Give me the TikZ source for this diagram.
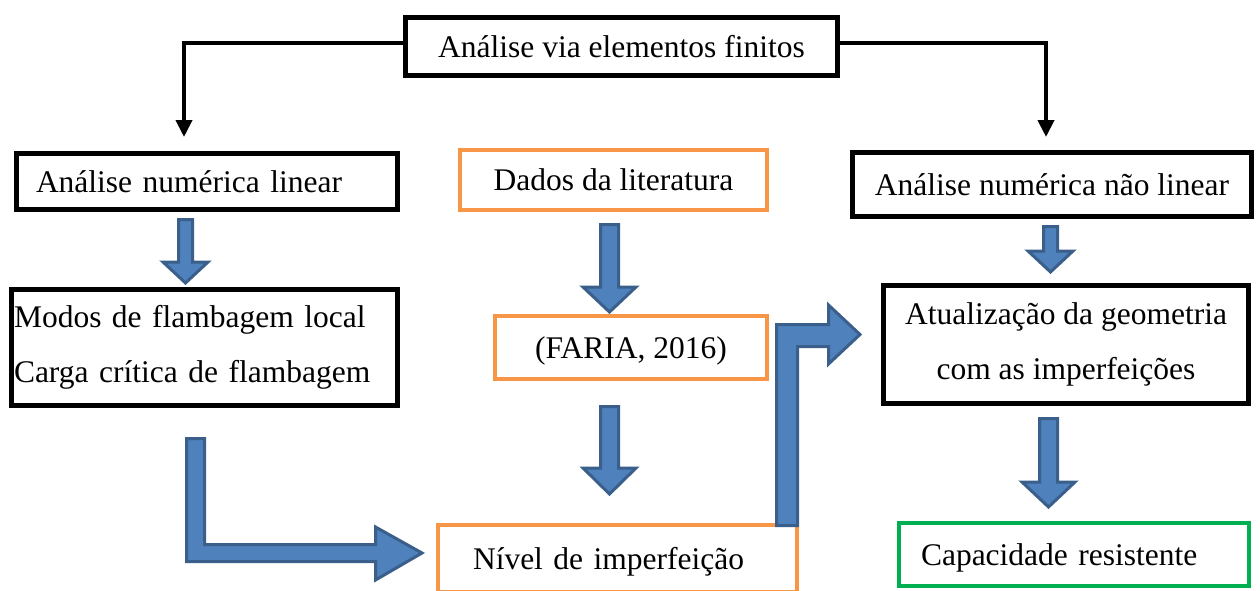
\documentclass[tikz,border=0pt]{standalone}
\usepackage{xcolor}
\usepackage{fontspec}
\setmainfont{Liberation Serif}
\usepackage{tikz}
\usetikzlibrary{arrows.meta}

\definecolor{arrowfill}{HTML}{4F81BD}
\definecolor{arrowline}{HTML}{3A5F8B}
\definecolor{orangeline}{HTML}{F79646}
\definecolor{greenline}{HTML}{00B050}

\begin{document}
\begin{tikzpicture}[
  x=1pt, y=-1pt,
  every node/.style={font=\fontsize{31.5pt}{55pt}\selectfont},
  frame/.style={draw=black, line width=5pt, inner sep=0pt, align=center},
  box/.style={frame, text height=21pt, text depth=0pt},
  lit/.style={box, draw=orangeline, line width=4.5pt},
  res/.style={box, draw=greenline, line width=4.5pt},
  link/.style={draw=black, line width=4pt, line join=miter,
               -{Triangle[width=16pt, length=17pt]}},
  fat/.style={fill=arrowfill, draw=arrowline, line width=3pt, line join=miter},
]
  \useasboundingbox (0,0) rectangle (1260,590);

  % Top box
  \node[box, minimum width=432pt, minimum height=58pt] (fem) at (621.5,46.5)
    {Análise via elementos finitos};

  % First row
  \node[box, minimum width=381pt, minimum height=56pt, inner xsep=19.5pt,
        text width=342pt, align=left] (lin) at (207,181.5)
    {Análise numérica linear};
  \node[lit, minimum width=307pt, minimum height=60pt] (lit) at (613.5,180)
    {Dados da literatura};
  \node[box, minimum width=399pt, minimum height=64pt] (nlin) at (1052,184.5)
    {Análise numérica não linear};

  % Second row
  \node[frame, minimum width=386pt, minimum height=116pt, inner xsep=2.5pt,
        text width=381pt, align=left] (mod) at (204.5,347.5)
    {Modos de flambagem local\\ Carga crítica de flambagem};
  \node[lit, minimum width=272pt, minimum height=63pt] (faria) at (631,347.5)
    {(FARIA, 2016)};
  \node[frame, minimum width=365pt, minimum height=118pt] (upd) at (1066,344.5)
    {Atualização da geometria\\ com as imperfeições};

  % Bottom row
  \node[lit, minimum width=359pt, minimum height=67pt, inner xsep=35pt,
        text width=289pt, align=left] (niv) at (617.5,558.5)
    {Nível de imperfeição};
  \node[res, minimum width=350pt, minimum height=63pt, inner xsep=22pt,
        text width=306pt, align=left] (cap) at (1074,554.5)
    {Capacidade resistente};

  % Thin arrows from the top box
  \coordinate (lintop) at (184,137);
  \coordinate (nlintop) at (1046,137);
  \draw[link] ([yshift=3.5pt]fem.west) -| (lintop);
  \draw[link] ([yshift=3.5pt]fem.east) -| (nlintop);

  % Straight block arrows
  \foreach \cx/\ya/\yh/\yb/\s/\w in {185.5/219.5/262/283/7/22.5,
      609.5/224.5/287/312/9/26.5, 609.5/406.5/468/494/9/26.5,
      1050.5/226.5/251/272/7/22.5, 1048.5/418.5/482/507/9/26.5}
    \draw[fat] ({\cx-\s},\ya) -- ({\cx+\s},\ya) -- ({\cx+\s},\yh)
      -- ({\cx+\w},\yh) -- (\cx,\yb) -- ({\cx-\w},\yh) -- ({\cx-\s},\yh) -- cycle;

  % Bent block arrows
  \draw[fat] (186.5,438.5) -- (204.5,438.5) -- (204.5,544.5) -- (375.5,544.5)
    -- (375.5,527) -- (422,553) -- (375.5,580) -- (375.5,561.5) -- (186.5,561.5) -- cycle;
  \draw[fat] (776.5,525.5) -- (776.5,324.5) -- (828.5,324.5) -- (828.5,305)
    -- (860,334.5) -- (828.5,364) -- (828.5,346.5) -- (797.5,346.5) -- (797.5,525.5) -- cycle;
\end{tikzpicture}
\end{document}
